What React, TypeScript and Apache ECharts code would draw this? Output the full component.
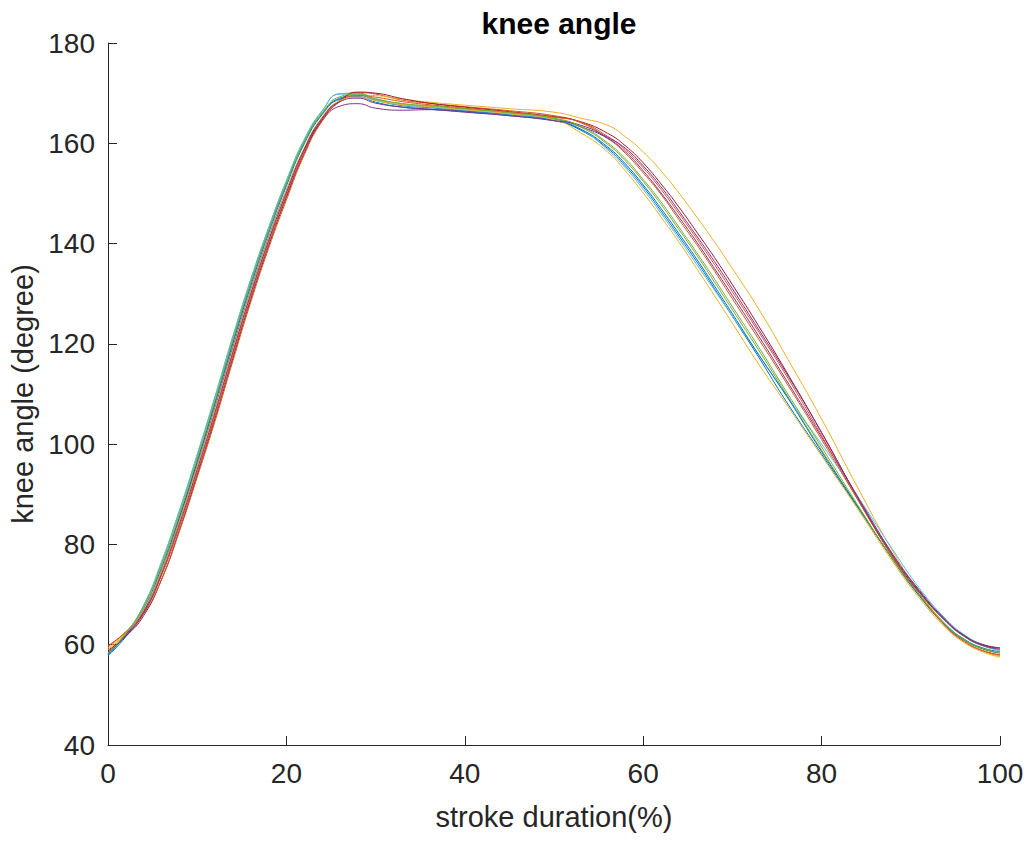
import React, { useEffect, useRef } from "react";
import * as echarts from "echarts";

// Stroke duration sample points (%), shared by every trial
const strokePct = [
  0, 2, 4, 6, 8, 10, 12, 14, 16, 18, 20, 22, 24, 26, 28, 30, 33, 36, 40, 45,
  50, 53, 56, 58, 60, 62, 64, 66, 68, 70, 73, 76, 80, 84, 88, 91, 94, 96, 98, 100,
];

// Knee angle (degree) for each recorded stroke
const trial01 = [57.8, 61.6, 66.6, 74.8, 85.2, 96.5, 108.4, 120.5, 132.0, 142.5, 151.9, 160.2, 166.0, 169.0, 169.6, 168.6, 167.5, 167.1, 166.5, 165.7, 164.6, 162.6, 159.0, 155.5, 151.3, 146.5, 141.5, 136.4, 131.0, 125.5, 117.2, 108.6, 98.0, 87.5, 77.0, 69.8, 63.9, 61.1, 59.4, 58.6];
const trial02 = [59.6, 62.6, 66.5, 73.8, 83.5, 94.3, 105.7, 117.7, 129.3, 140.0, 149.6, 158.4, 164.8, 168.6, 170.1, 169.8, 168.6, 168.0, 167.3, 166.5, 165.5, 164.1, 161.0, 158.0, 154.1, 149.8, 144.8, 139.8, 134.5, 129.0, 120.8, 112.4, 100.9, 89.1, 77.5, 70.0, 63.6, 60.7, 58.9, 58.0];
const trial03 = [59.3, 62.5, 67.0, 74.4, 84.2, 95.0, 106.5, 118.5, 130.0, 140.6, 150.2, 158.8, 165.0, 168.5, 169.6, 169.5, 168.8, 168.2, 167.6, 166.9, 166.2, 165.0, 163.6, 161.3, 158.3, 154.5, 150.1, 145.3, 140.3, 135.0, 126.8, 117.6, 105.0, 91.5, 78.6, 70.4, 63.8, 60.7, 58.8, 57.7];
const trial04 = [58.6, 62.0, 66.8, 74.8, 84.8, 95.8, 107.3, 119.3, 130.7, 141.2, 150.6, 158.8, 164.5, 167.4, 167.9, 167.0, 166.6, 166.7, 166.4, 165.8, 164.8, 163.3, 161.0, 158.3, 154.5, 150.1, 145.3, 140.3, 135.0, 129.6, 121.4, 112.9, 101.4, 89.7, 78.0, 70.8, 64.8, 61.9, 60.1, 59.4];
const trial05 = [58.2, 62.3, 67.8, 76.3, 86.6, 97.7, 109.3, 121.3, 132.7, 143.0, 152.4, 160.6, 166.4, 169.9, 170.0, 168.9, 167.9, 167.4, 166.8, 166.0, 164.9, 163.2, 159.8, 156.5, 152.4, 147.8, 142.8, 137.7, 132.3, 126.8, 118.6, 110.1, 98.8, 87.7, 77.2, 70.3, 64.5, 61.6, 59.8, 58.9];
const trial06 = [58.0, 62.2, 67.9, 76.6, 86.8, 98.0, 109.6, 121.6, 132.9, 143.2, 152.6, 160.8, 166.5, 169.8, 169.7, 168.6, 167.6, 167.2, 166.6, 165.8, 164.7, 162.8, 158.7, 155.1, 150.8, 146.0, 141.0, 135.8, 130.7, 125.5, 117.7, 109.8, 100.0, 89.7, 78.9, 71.2, 65.0, 62.0, 60.0, 58.8];
const trial07 = [58.9, 61.7, 65.8, 73.0, 82.8, 93.8, 105.1, 117.1, 128.8, 139.5, 149.2, 158.0, 164.6, 168.4, 170.2, 170.0, 168.9, 168.0, 167.2, 166.3, 165.3, 164.3, 162.0, 159.5, 156.1, 151.9, 147.3, 142.3, 137.2, 131.8, 123.4, 114.6, 102.3, 89.5, 77.5, 70.4, 64.6, 61.8, 60.0, 59.3];
const trial08 = [58.0, 62.0, 67.2, 75.4, 85.5, 96.6, 108.1, 120.1, 131.5, 142.0, 151.5, 159.9, 165.7, 168.8, 169.3, 168.2, 167.2, 166.8, 166.3, 165.5, 164.5, 162.8, 159.3, 155.9, 151.7, 147.0, 142.0, 136.9, 131.5, 126.0, 117.7, 109.8, 98.5, 87.7, 76.9, 69.6, 63.6, 60.9, 59.2, 58.3];
const trial09 = [59.8, 62.5, 66.2, 73.0, 82.6, 93.4, 104.6, 116.6, 128.3, 139.0, 148.7, 157.7, 164.4, 168.3, 169.5, 169.2, 168.3, 167.7, 167.0, 166.2, 165.2, 164.2, 161.4, 158.7, 155.1, 150.8, 146.0, 141.0, 135.8, 130.4, 122.2, 113.8, 101.7, 89.1, 77.4, 69.9, 63.5, 60.6, 58.8, 57.9];
const trial10 = [59.0, 62.3, 67.0, 74.8, 84.7, 95.6, 107.0, 118.9, 130.5, 141.0, 150.5, 159.1, 165.2, 168.5, 169.2, 168.5, 167.7, 167.3, 166.7, 165.9, 164.7, 162.1, 158.3, 154.5, 150.1, 145.3, 140.3, 135.0, 129.6, 124.1, 115.8, 108.1, 97.7, 87.2, 76.5, 69.2, 63.2, 60.4, 58.6, 57.5];
const trial11 = [58.4, 61.8, 66.3, 74.1, 84.0, 94.9, 106.3, 118.3, 129.9, 140.5, 150.1, 158.8, 165.0, 168.3, 169.0, 168.0, 167.2, 166.8, 166.2, 165.5, 164.5, 163.6, 161.2, 159.0, 155.5, 151.3, 146.5, 141.5, 136.4, 131.0, 122.7, 114.3, 102.3, 89.5, 77.8, 70.6, 64.6, 61.7, 59.9, 59.1];
const trial12 = [58.3, 62.2, 67.6, 75.9, 86.0, 97.1, 108.7, 120.7, 132.1, 142.5, 151.9, 160.2, 166.0, 169.3, 169.8, 168.8, 167.9, 167.5, 166.9, 166.1, 165.0, 163.4, 160.1, 156.9, 152.8, 148.3, 143.3, 138.2, 132.9, 127.4, 119.2, 110.6, 99.4, 88.0, 77.0, 69.9, 63.8, 61.0, 59.3, 58.4];

const trials = [trial01, trial02, trial03, trial04, trial05, trial06, trial07, trial08, trial09, trial10, trial11, trial12];

// Default line colour order, cycled over the trials
const lineColors = ["#0072BD", "#D95319", "#EDB120", "#7E2F8E", "#77AC30", "#4DBEEE", "#A2142F"];

const xTicks = [0, 20, 40, 60, 80, 100];
const yTicks = [40, 60, 80, 100, 120, 140, 160, 180];

const AXIS_COLOR = "#262626";
const FONT = "'Liberation Sans', Arial, Helvetica, sans-serif";

export default function App() {
  const ref = useRef<HTMLDivElement>(null);

  useEffect(() => {
    if (!ref.current) return;
    const chart = echarts.init(ref.current, undefined, { renderer: "svg" });

    const series = trials.map((vals, i) => ({
      name: `trial ${i + 1}`,
      type: "line",
      data: strokePct.map((x, j) => [x, vals[j]]),
      showSymbol: false,
      smooth: 0.5,
      lineStyle: { width: 1, color: lineColors[i % lineColors.length] },
      itemStyle: { color: lineColors[i % lineColors.length] },
      emphasis: { disabled: true },
    }));

    chart.setOption({
      animation: false,
      backgroundColor: "#ffffff",
      title: {
        text: "knee angle",
        left: 554,
        top: 3,
        textAlign: "center",
        textStyle: { fontFamily: FONT, fontSize: 30, fontWeight: "bold", color: "#000000" },
      },
      grid: { left: 108, right: 28, top: 43, bottom: 96, containLabel: false },
      xAxis: {
        type: "value",
        min: xTicks[0],
        max: xTicks[xTicks.length - 1],
        interval: 20,
        name: "stroke duration(%)",
        nameLocation: "middle",
        nameGap: 57,
        nameTextStyle: { fontFamily: FONT, fontSize: 29, color: AXIS_COLOR },
        axisLine: { show: true, onZero: false, lineStyle: { color: AXIS_COLOR, width: 1 } },
        axisTick: { show: true, inside: true, length: 9, lineStyle: { color: AXIS_COLOR } },
        axisLabel: { fontFamily: FONT, fontSize: 28, color: AXIS_COLOR, margin: 14 },
        splitLine: { show: false },
      },
      yAxis: {
        type: "value",
        min: yTicks[0],
        max: yTicks[yTicks.length - 1],
        interval: 20,
        name: "knee angle (degree)",
        nameLocation: "middle",
        nameGap: 66,
        nameTextStyle: { fontFamily: FONT, fontSize: 29, color: AXIS_COLOR },
        axisLine: { show: true, lineStyle: { color: AXIS_COLOR, width: 1 } },
        axisTick: { show: true, inside: true, length: 9, lineStyle: { color: AXIS_COLOR } },
        axisLabel: { fontFamily: FONT, fontSize: 28, color: AXIS_COLOR, margin: 13 },
        splitLine: { show: false },
      },
      series,
    });

    return () => chart.dispose();
  }, []);

  return (
    <div
      ref={ref}
      style={{ position: "fixed", left: 0, top: 0, width: 1028, height: 841, background: "#fff" }}
    />
  );
}
